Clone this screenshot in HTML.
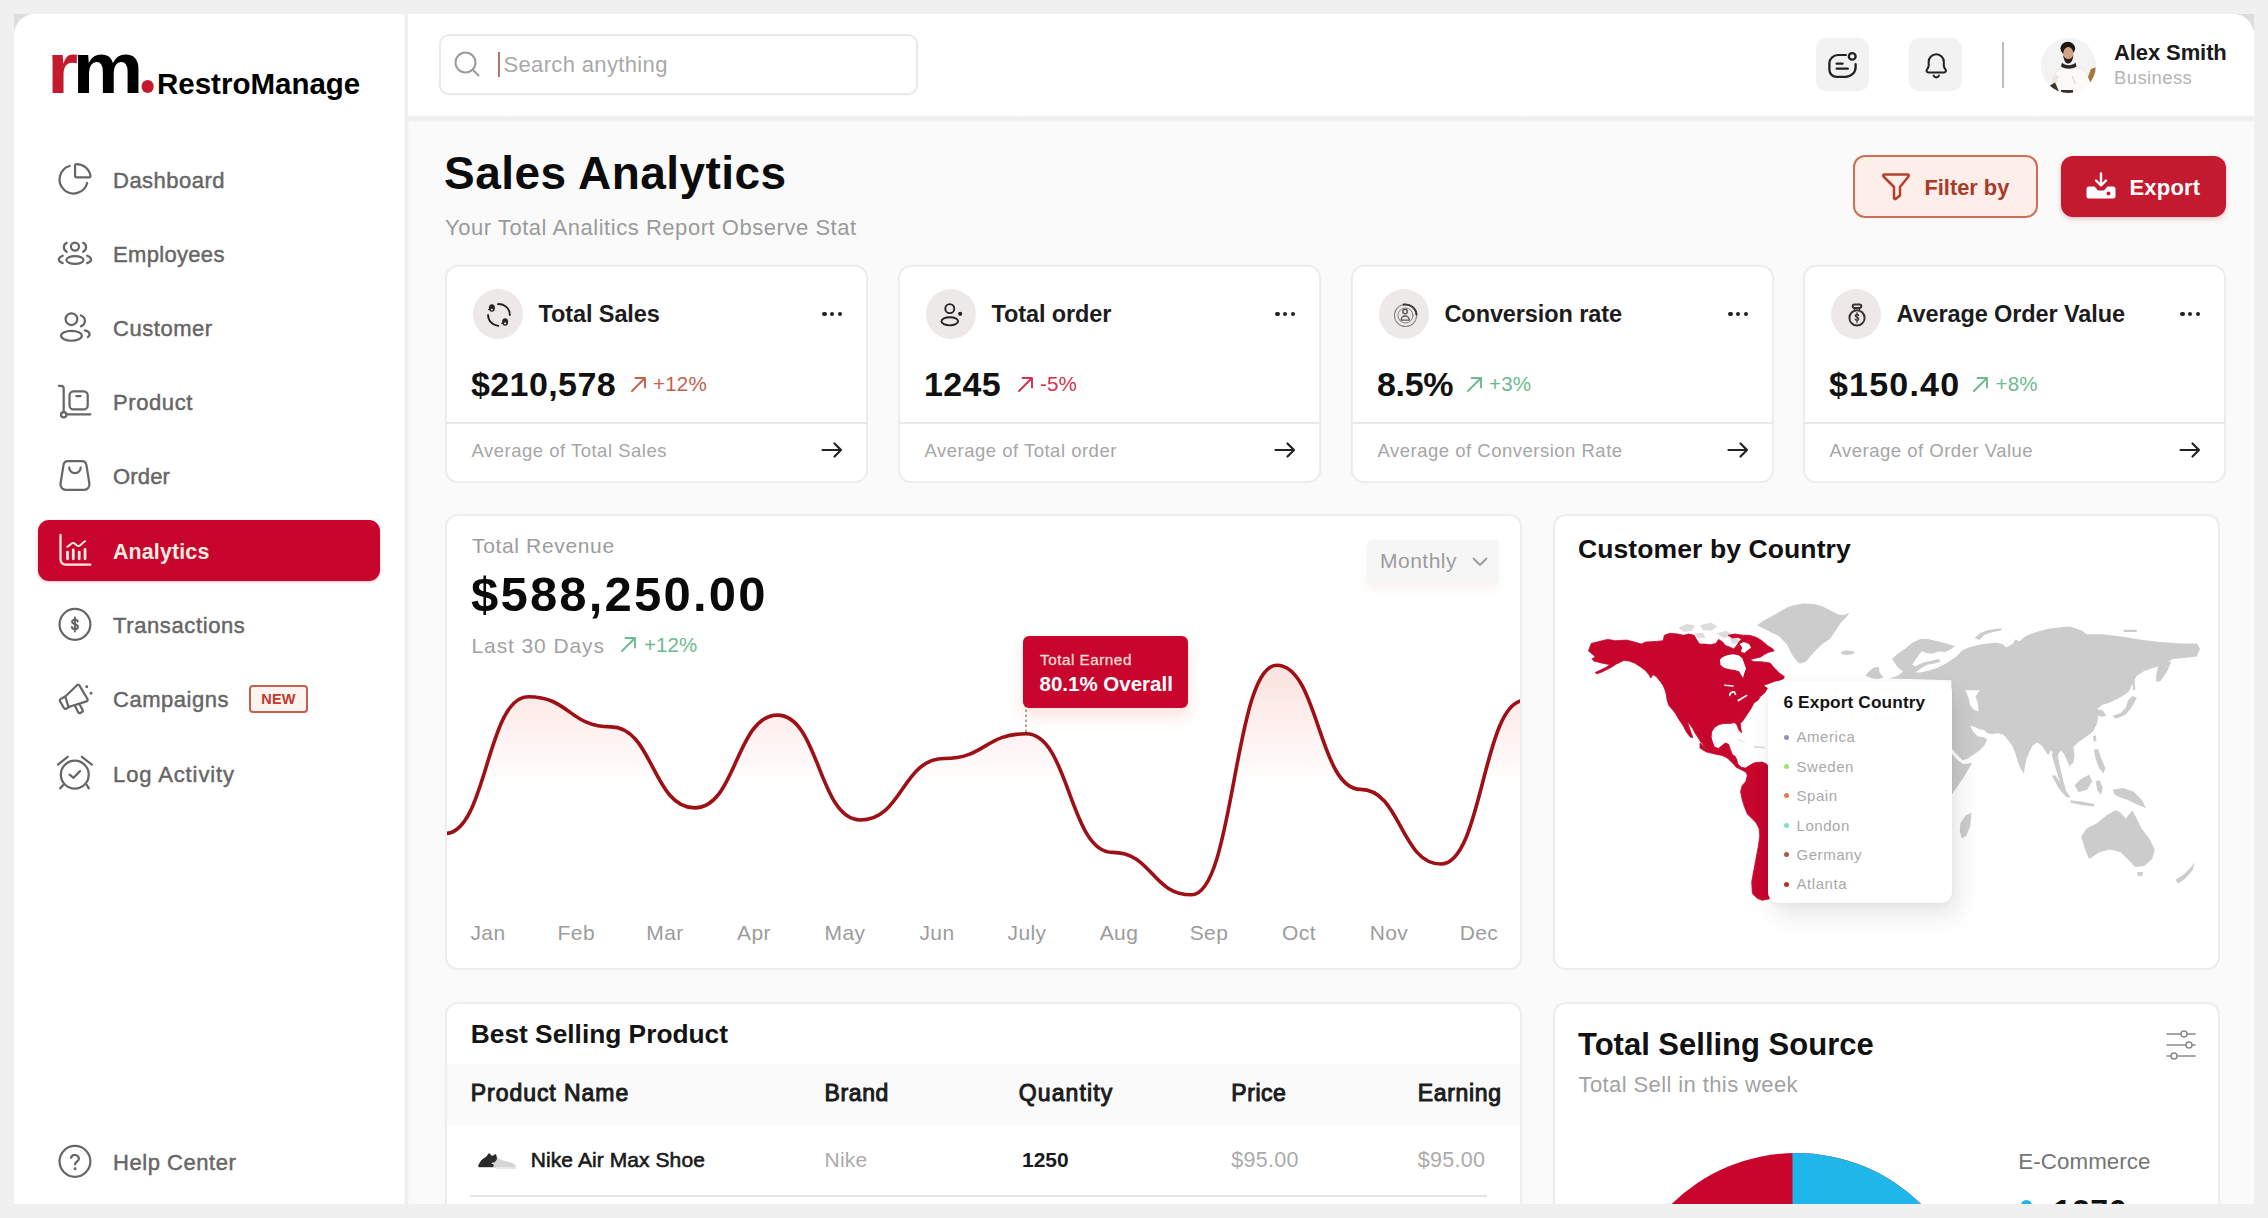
<!DOCTYPE html>
<html lang="en">
<head>
<meta charset="utf-8">
<title>RestroManage - Sales Analytics</title>
<style>
*{box-sizing:border-box;margin:0;padding:0}
html,body{width:2268px;height:1218px;overflow:hidden;background:#f0f0f0;font-family:"Liberation Sans",sans-serif;color:#111}
.abs{position:absolute}
.t{position:absolute;white-space:nowrap;line-height:1}
#app{position:absolute;left:14px;top:14px;width:2240px;height:1190px;background:#fafafa;border-radius:21px 21px 0 0;overflow:hidden}
#pg{position:absolute;left:-14px;top:-14px;width:2268px;height:1218px}
#side{position:absolute;left:14px;top:14px;width:391px;height:1190px;background:#fff}
#sideb{position:absolute;left:404px;top:14px;width:4.500px;height:1190px;background:linear-gradient(to right,#f9f9f9,#ececec 45%,#ececec 55%,#f9f9f9)}
#head{position:absolute;left:408px;top:14px;width:1846px;height:103px;background:#fff}
#headb{position:absolute;left:408px;top:114.500px;width:1846px;height:7px;background:linear-gradient(#fdfdfd,#ececec 45%,#eeeeee 55%,#f8f8f8)}
.nav{position:absolute;left:113px;font-size:22px;letter-spacing:.45px;color:#666;white-space:nowrap;line-height:30px;height:30px;-webkit-text-stroke:.45px #666}
.ico{position:absolute;fill:none;stroke:#666;stroke-width:2.1;stroke-linecap:round;stroke-linejoin:round}
.card{position:absolute;background:#fff;border:2px solid #ededed;border-radius:13px;box-shadow:0 0 2px rgba(0,0,0,.03)}
.sb{font-weight:700}
.g{color:#a6a6a6}
svg{overflow:visible}
</style>
</head>
<body>
<div style="position:absolute;left:14px;top:14px;width:16px;height:16px;background:#dcdcdc"></div><div style="position:absolute;left:2238px;top:14px;width:16px;height:16px;background:#dcdcdc"></div>
<div id="app"><div id="pg">
<div id="side"></div><div id="sideb"></div><div id="head"></div><div id="headb"></div>
<div class="t" style="left:47.300px;top:32.250px;font-size:72.500px;font-weight:700;letter-spacing:-5px;line-height:72.500px;color:#000;transform:scaleX(1.1);transform-origin:0 0"><span style="color:#c41a2e">r</span>m<span style="display:inline-block;width:11.600px;height:13px;border-radius:50%;background:#c41a2e;color:transparent;font-size:8px;letter-spacing:0;line-height:13px;overflow:hidden;margin-left:3.200px;vertical-align:baseline;position:relative;top:0px">.</span></div>
<div class="t " style="left:157px;top:68.8px;font-size:29.5px;line-height:29.5px;color:#000;font-weight:700;">RestroManage</div>
<svg class="ico" viewBox="0 0 32 32" style="left:57px;top:163px;width:34px;height:34px"><path d="M11.900 2.800A13.200 13.200 0 1 0 28.400 18.800"/><path d="M17 2.200a1.200 1.200 0 0 1 1.300-1.200A13.200 13.200 0 0 1 31.500 12.200a1.200 1.200 0 0 1-1.200 1.300H18.200a1.200 1.200 0 0 1-1.200-1.200z"/></svg>
<div class="nav" style="top:166px;letter-spacing:0.49px">Dashboard</div>
<svg class="ico" viewBox="0 0 32 32" style="left:57px;top:237px;width:34px;height:34px"><circle cx="16.900" cy="9" r="3.800"/><ellipse cx="16.900" cy="21.600" rx="8.100" ry="3.700"/><path d="M9.200 5.500C5.500 7.500 5.500 12 9.200 14"/><path d="M24.600 5.500C28.300 7.500 28.300 12 24.600 14"/><path d="M5.400 17.600C.5 19.500.5 23 5.400 24.600"/><path d="M28.400 17.600C33.300 19.500 33.300 23 28.400 24.600"/></svg>
<div class="nav" style="top:240px;letter-spacing:0.32px">Employees</div>
<svg class="ico" viewBox="0 0 32 32" style="left:57px;top:311px;width:34px;height:34px"><circle cx="13.600" cy="7.700" r="5.500"/><ellipse cx="13.600" cy="23.300" rx="9.800" ry="4.700"/><path d="M22.500 4.200C27.500 6 27.500 12.500 22.500 14.500"/><path d="M26.200 18.300C30.800 19 32 22.500 29 24.600"/></svg>
<div class="nav" style="top:314px;letter-spacing:0.54px">Customer</div>
<svg class="ico" viewBox="0 0 32 32" style="left:57px;top:385px;width:34px;height:34px"><path d="M1.800.8h2a2.500 2.500 0 0 1 2.500 2.500V25.200"/><circle cx="6.300" cy="28" r="2.500"/><path d="M9 27.600H31.400"/><rect x="11.800" y="5.900" width="17.100" height="17.100" rx="3.800"/><path d="M18.200 10.400h4"/></svg>
<div class="nav" style="top:388px;letter-spacing:0.6px">Product</div>
<svg class="ico" viewBox="0 0 32 32" style="left:57px;top:459px;width:34px;height:34px"><path d="M10.500 2h12.800a4.500 4.500 0 0 1 4.400 3.800l2.800 17.500a5 5 0 0 1-5 5.700H8.300a5 5 0 0 1-5-5.700L6.100 5.800A4.500 4.500 0 0 1 10.500 2z"/><path d="M11.500 8a5.400 5.400 0 0 0 10.800 0"/></svg>
<div class="nav" style="top:462px;letter-spacing:0.16px">Order</div>
<div class="abs" style="left:38px;top:520px;width:342px;height:61px;background:#c7052d;border-radius:11px;box-shadow:0 1px 3px rgba(200,8,43,.25)"></div>
<svg class="ico" viewBox="0 0 32 32" style="left:57px;top:534px;width:34px;height:34px;stroke:#fdebe0"><path d="M3.300.8V24a4.800 4.800 0 0 0 4.800 4.800H31.400"/><path d="M9.900 23.400V17M15.300 23.400V15M20.900 23.400V17M26.400 23.400V14.500" stroke-width="2.600"/><path d="M9.700 11.900C12 11.500 13 8.300 15.400 8.500 17.500 8.700 18 11.500 20.300 11.300 22.800 11 24 7.500 26.400 6.800" stroke-width="1.900"/></svg>
<div class="nav" style="top:537px;letter-spacing:0.15px;color:#fdebe0;font-weight:700;-webkit-text-stroke:0;font-size:21.4px">Analytics</div>
<svg class="ico" viewBox="0 0 32 32" style="left:57px;top:608px;width:34px;height:34px"><circle cx="16.900" cy="15.400" r="14.500"/><path d="M19.500 12.800c-.3-1.300-1.300-1.900-2.600-1.900-1.600 0-2.700.8-2.700 2.100 0 3 5.500 1.600 5.500 4.600 0 1.400-1.200 2.300-2.800 2.300-1.600 0-2.700-.7-2.900-2M16.900 9v13" stroke-width="1.900"/></svg>
<div class="nav" style="top:611px;letter-spacing:0.61px">Transactions</div>
<svg class="ico" viewBox="0 0 32 32" style="left:57px;top:682px;width:34px;height:34px"><path d="M7.800 13.600L18.800 3a1.500 1.500 0 0 1 2.400.4L28.700 16a1.500 1.500 0 0 1-.9 2.200L10.800 23.500z"/><path d="M7.200 13.900l-3.800 2.200a1.500 1.500 0 0 0-.5 2.100l3.600 6.300a1.500 1.500 0 0 0 2 .6l3.200-1.800"/><path d="M17 22.500l3 5.900a1.500 1.500 0 0 0 2 .7l1.500-.8a1.500 1.500 0 0 0 .6-2l-2.600-4.900"/><circle cx="28" cy="4.500" r=".9" fill="#666" stroke-width="1"/><circle cx="32" cy="10.500" r=".9" fill="#666" stroke-width="1"/></svg>
<div class="nav" style="top:685px;letter-spacing:0.52px">Campaigns</div>
<div class="abs" style="left:249px;top:685px;width:59px;height:28px;border:2px solid #c5604e;border-radius:4px;background:#fdf3f0;color:#c0392b;font-size:14.5px;font-weight:700;text-align:center;line-height:24px;letter-spacing:.3px">NEW</div>
<svg class="ico" viewBox="0 0 32 32" style="left:57px;top:757px;width:34px;height:34px"><circle cx="16.750" cy="16.600" r="13.100"/><path d="M11.900 16.600l3.700 3 6-6.300"/><path d="M.9 7.200L10-.2M23.400-.2l9.400 7.400M5.800 26.300l-2.700 3.200M28.100 26.300l1.800 3.200"/></svg>
<div class="nav" style="top:760px;letter-spacing:0.89px">Log Activity</div>
<svg class="ico" viewBox="0 0 32 32" style="left:57px;top:1145px;width:34px;height:34px"><circle cx="16.900" cy="15.400" r="14.500"/><path d="M13.200 12a3.800 3.800 0 0 1 7.400.9c0 2.500-3.600 2.900-3.600 5.400"/><circle cx="17" cy="22.300" r=".9" fill="#666" stroke-width="1"/></svg>
<div class="nav" style="top:1148px;letter-spacing:0.55px">Help Center</div>
<div class="abs" style="left:439px;top:34px;width:479px;height:61px;border:2px solid #e9e9e9;border-radius:10px;background:#fff;box-shadow:0 1px 2px rgba(0,0,0,.03)"></div>
<svg class="abs" style="left:453px;top:50px" width="28" height="28" viewBox="0 0 28 28" fill="none" stroke="#9b9b9b" stroke-width="2" stroke-linecap="round"><circle cx="12.5" cy="12.500" r="10"/><path d="M20 20l5.500 5.500"/></svg>
<div class="abs" style="left:497.5px;top:51.500px;width:2px;height:25px;background:#b7746c"></div>
<div class="t " style="left:503.5px;top:53.5px;font-size:22px;line-height:22px;color:#a9a9a9;font-weight:400;letter-spacing:0.35px;">Search anything</div>
<div class="abs" style="left:1815.5px;top:37.5px;width:53px;height:53px;border-radius:10px;background:#f2f2f2"></div>
<div class="abs" style="left:1909px;top:37.5px;width:53px;height:53px;border-radius:10px;background:#f2f2f2"></div>
<svg class="abs" style="left:1826px;top:50px" width="33" height="31" viewBox="0 0 34 34" preserveAspectRatio="none" fill="none" stroke="#222" stroke-width="2.400" stroke-linecap="round" stroke-linejoin="round"><path d="M20.500 5.500H12.500a9 9 0 0 0-9 9v7.500a7.500 7.500 0 0 0 7.500 7.500H20a10.500 10.500 0 0 0 10.500-10.500V15.500"/><circle cx="27" cy="7" r="3.500"/><path d="M11 15h6M11 20.500h11.500"/></svg>
<svg class="abs" style="left:1921.500px;top:50.500px" width="28.500" height="30.500" viewBox="0 0 32 34" fill="none" stroke="#222" stroke-width="2.300" stroke-linecap="round" stroke-linejoin="round"><path d="M16 3.500a8.500 8.500 0 0 0-8.500 8.500v4.500c0 1.500-.8 2.800-1.800 4-1.300 1.500-.4 3.500 1.600 3.500h17.400c2 0 2.900-2 1.600-3.500-1-1.200-1.800-2.500-1.800-4V12A8.500 8.500 0 0 0 16 3.500z"/><path d="M13 27.500c.6 1.300 1.700 2 3 2s2.400-.7 3-2"/></svg>
<div class="abs" style="left:2001.5px;top:42px;width:2.500px;height:46px;background:#bdbdbd"></div>
<svg class="abs" style="left:2041px;top:38px" width="55" height="55" viewBox="0 0 55 55"><defs><clipPath id="avc"><circle cx="27.500" cy="27.500" r="27.500"/></clipPath></defs><circle cx="27.500" cy="27.500" r="27.500" fill="#f3f3f3"/><g clip-path="url(#avc)"><path d="M11 56C10 44 12 34 20 30.500L27 27.500l6 .5c8 2 13 6 15 12l2-8 5-2v14l-6 6-2 6z" fill="#fbfaf8" stroke="#e9e5df" stroke-width=".8"/><path d="M14 36c-3 4-4 10-4 16l5 2c0-7 1-12 3-16z" fill="#ece7e0"/><path d="M47 39l3-8 4.500-1.800.5 9-5 8z" fill="#a9763f"/><path d="M9 47.500l5-3 4 9-6 3z" fill="#3f3229"/><path d="M20 52h12v4H20z" fill="#3a302a"/><ellipse cx="26.800" cy="10.500" rx="7.300" ry="6.800" fill="#1d1714"/><ellipse cx="27.300" cy="16" rx="5.100" ry="7" fill="#cfa585"/><path d="M22.300 17c.2 6 2.700 8.500 5 8.500s4.700-2.500 5-8.500c-1.300 3-2.800 4-5 4s-3.700-1-5-4z" fill="#2a1f1a"/><path d="M20.500 12.500c.5-5 3-7.500 6.500-7.500s6.500 2.500 7 7c-2-2.500-4-3.500-7-3.500s-4.500 1-6.500 4z" fill="#1d1714"/><path d="M21 24.500c3 3.500 10.500 3.500 13.500 0l1 4c-4.500 3-11 3-15.500 0z" fill="#2e2622"/><path d="M31 38l3.500 8" stroke="#d5cfc6" stroke-width="1"/></g></svg>
<div class="t " style="left:2114px;top:41.5px;font-size:22px;line-height:22px;color:#1a1a1a;font-weight:700;letter-spacing:-0.1px;">Alex Smith</div>
<div class="t " style="left:2114px;top:68.8px;font-size:18.5px;line-height:18.5px;color:#b4b4b4;font-weight:400;letter-spacing:0.4px;">Business</div>
<div class="t " style="left:444px;top:150.0px;font-size:46px;line-height:46px;color:#0c0c0c;font-weight:700;letter-spacing:0.45px;">Sales Analytics</div>
<div class="t " style="left:445px;top:216.5px;font-size:22px;line-height:22px;color:#9a9a9a;font-weight:400;letter-spacing:0.54px;">Your Total Analitics Report Observe Stat</div>
<div class="abs" style="left:1853px;top:155px;width:184.500px;height:62.500px;border:2px solid #cf6e58;border-radius:12px;background:#fdeee9"></div>
<svg class="abs" style="left:1881px;top:172px" width="30" height="30" viewBox="0 0 30 30" fill="none" stroke="#b4402c" stroke-width="2.500" stroke-linecap="round" stroke-linejoin="round"><path d="M3.500 2.500h23a1.200 1.200 0 0 1 1 2l-8.500 10.500v8.500l-4.500 3.500a1 1 0 0 1-1.500-.8V15L2.500 4.500a1.200 1.200 0 0 1 1-2z"/></svg>
<div class="t " style="left:1924.5px;top:176.6px;font-size:21.8px;line-height:21.8px;color:#a93a27;font-weight:700;">Filter by</div>
<div class="abs" style="left:2061px;top:155.5px;width:165px;height:61.500px;border-radius:12px;background:#c41a30;box-shadow:0 2px 5px rgba(196,26,48,.25)"></div>
<svg class="abs" style="left:2086px;top:172px" width="30" height="28" viewBox="0 0 30 28"><path d="M15 1.500v11M10 8.500l5 5 5-5" fill="none" stroke="#fff" stroke-width="2.400" stroke-linecap="round" stroke-linejoin="round"/><path d="M3 14.500h5.500l3.500 4h6l3.500-4H27a2.500 2.500 0 0 1 2.500 2.500v7a2.500 2.500 0 0 1-2.500 2.500H3A2.500 2.500 0 0 1 .5 24v-7A2.500 2.500 0 0 1 3 14.500z" fill="#fff"/><circle cx="22.500" cy="21.500" r="2" fill="#c41a30"/></svg>
<div class="t " style="left:2129.5px;top:176.5px;font-size:22px;line-height:22px;color:#fff;font-weight:700;letter-spacing:0.2px;">Export</div>
<div class="card" style="left:445px;top:264.5px;width:422.500px;height:218px"></div>
<div class="abs" style="left:446px;top:421.5px;width:420.500px;height:2px;background:#e8e8e8"></div>
<div class="abs" style="left:472.5px;top:288.500px;width:50px;height:50px;border-radius:50%;background:#ede9e9"></div>
<svg class="abs" style="left:482.5px;top:298.500px" width="30" height="30" viewBox="0 0 32 32" fill="none" stroke="#222" stroke-width="1.800" stroke-linecap="round" stroke-linejoin="round"><path d="M16 5.400A11.600 11.600 0 0 1 28.600 17" stroke-width="2"/><path d="M5.400 17A11.600 11.600 0 0 0 16.500 28.600" stroke-width="2"/><ellipse cx="9.500" cy="9.700" rx="3.200" ry="4" fill="#2b2424" stroke="none"/><ellipse cx="23.600" cy="24.400" rx="3.200" ry="4" fill="#2b2424" stroke="none"/><ellipse cx="9.500" cy="11.200" rx="1.300" ry=".9" fill="#e9e4e4" stroke="none"/><ellipse cx="23.600" cy="25.900" rx="1.300" ry=".9" fill="#e9e4e4" stroke="none"/><path d="M5.800 11.200h1.500M19.900 25.900h1.500" stroke-width="1.200"/></svg>
<div class="t " style="left:538.5px;top:303.2px;font-size:23.5px;line-height:23.5px;color:#1c1c1c;font-weight:700;letter-spacing:-0.1px;">Total Sales</div>
<div class="abs" style="left:822.0px;top:311.500px;width:4.500px;height:4.500px;border-radius:50%;background:#222"></div>
<div class="abs" style="left:829.8px;top:311.500px;width:4.500px;height:4.500px;border-radius:50%;background:#222"></div>
<div class="abs" style="left:837.6px;top:311.500px;width:4.500px;height:4.500px;border-radius:50%;background:#222"></div>
<div class="t " style="left:471px;top:366.5px;font-size:34px;line-height:34px;color:#111;font-weight:700;letter-spacing:0.4px;">$210,578</div>
<svg class="abs" style="left:629.5px;top:375.5px" width="17" height="17" viewBox="0 0 17 17" fill="none" stroke="#c5604e" stroke-width="1.900" stroke-linecap="round" stroke-linejoin="round"><path d="M2 15L15 2M5.500 2H15v9.500"/></svg>
<div class="t " style="left:653.0px;top:373.7px;font-size:20.6px;line-height:20.6px;color:#c5604e;font-weight:400;letter-spacing:0.15px;">+12%</div>
<div class="t " style="left:471.5px;top:442.2px;font-size:18.5px;line-height:18.5px;color:#a6a6a6;font-weight:400;letter-spacing:0.5px;">Average of Total Sales</div>
<svg class="abs" style="left:821px;top:440px" width="22" height="20" viewBox="0 0 22 20" fill="none" stroke="#222" stroke-width="2.200" stroke-linecap="round" stroke-linejoin="round"><path d="M1.500 10h18.500M13.500 3.500L20 10l-6.500 6.500"/></svg>
<div class="card" style="left:898px;top:264.5px;width:422.500px;height:218px"></div>
<div class="abs" style="left:899px;top:421.5px;width:420.500px;height:2px;background:#e8e8e8"></div>
<div class="abs" style="left:925.5px;top:288.500px;width:50px;height:50px;border-radius:50%;background:#ede9e9"></div>
<svg class="abs" style="left:935.5px;top:298.500px" width="30" height="30" viewBox="0 0 32 32" fill="none" stroke="#222" stroke-width="1.800" stroke-linecap="round" stroke-linejoin="round"><circle cx="14.700" cy="10.300" r="4.800" stroke-width="2"/><ellipse cx="14.700" cy="23.800" rx="8.900" ry="4.300" stroke-width="2"/><circle cx="25.800" cy="15.800" r="2.200" fill="#222" stroke="none"/></svg>
<div class="t " style="left:991.5px;top:303.2px;font-size:23.5px;line-height:23.5px;color:#1c1c1c;font-weight:700;letter-spacing:-0.1px;">Total order</div>
<div class="abs" style="left:1275.0px;top:311.500px;width:4.500px;height:4.500px;border-radius:50%;background:#222"></div>
<div class="abs" style="left:1282.8px;top:311.500px;width:4.500px;height:4.500px;border-radius:50%;background:#222"></div>
<div class="abs" style="left:1290.6px;top:311.500px;width:4.500px;height:4.500px;border-radius:50%;background:#222"></div>
<div class="t " style="left:924px;top:366.5px;font-size:34px;line-height:34px;color:#111;font-weight:700;letter-spacing:0.3px;">1245</div>
<svg class="abs" style="left:1016.5px;top:375.5px" width="17" height="17" viewBox="0 0 17 17" fill="none" stroke="#d6304a" stroke-width="1.900" stroke-linecap="round" stroke-linejoin="round"><path d="M2 15L15 2M5.500 2H15v9.500"/></svg>
<div class="t " style="left:1040.0px;top:373.7px;font-size:20.6px;line-height:20.6px;color:#d6304a;font-weight:400;letter-spacing:0.15px;">-5%</div>
<div class="t " style="left:924.5px;top:442.2px;font-size:18.5px;line-height:18.5px;color:#a6a6a6;font-weight:400;letter-spacing:0.5px;">Average of Total order</div>
<svg class="abs" style="left:1274px;top:440px" width="22" height="20" viewBox="0 0 22 20" fill="none" stroke="#222" stroke-width="2.200" stroke-linecap="round" stroke-linejoin="round"><path d="M1.500 10h18.500M13.500 3.500L20 10l-6.500 6.500"/></svg>
<div class="card" style="left:1351px;top:264.5px;width:422.500px;height:218px"></div>
<div class="abs" style="left:1352px;top:421.5px;width:420.500px;height:2px;background:#e8e8e8"></div>
<div class="abs" style="left:1378.5px;top:288.500px;width:50px;height:50px;border-radius:50%;background:#ede9e9"></div>
<svg class="abs" style="left:1388.5px;top:298.500px" width="30" height="30" viewBox="0 0 32 32" fill="none" stroke="#222" stroke-width="1.800" stroke-linecap="round" stroke-linejoin="round"><circle cx="17.600" cy="17.600" r="11.800" stroke-width="1.100" stroke="#8a8585"/><path d="M15.550 5.980A11.800 11.800 0 0 1 29.360 16.570" stroke-width="2.200" stroke="#3a3535"/><circle cx="17.600" cy="17.600" r="8" stroke-width="1" stroke="#777"/><circle cx="17.100" cy="13.400" r="2.400" stroke-width="1.500" stroke="#555"/><path d="M13 22.500a4.300 4.300 0 0 1 8.600 0z" stroke-width="1.500" stroke="#555"/></svg>
<div class="t " style="left:1444.5px;top:303.2px;font-size:23.5px;line-height:23.5px;color:#1c1c1c;font-weight:700;letter-spacing:-0.1px;">Conversion rate</div>
<div class="abs" style="left:1728.0px;top:311.500px;width:4.500px;height:4.500px;border-radius:50%;background:#222"></div>
<div class="abs" style="left:1735.8px;top:311.500px;width:4.500px;height:4.500px;border-radius:50%;background:#222"></div>
<div class="abs" style="left:1743.6px;top:311.500px;width:4.500px;height:4.500px;border-radius:50%;background:#222"></div>
<div class="t " style="left:1377px;top:366.5px;font-size:34px;line-height:34px;color:#111;font-weight:700;letter-spacing:-0.3px;">8.5%</div>
<svg class="abs" style="left:1465.5px;top:375.5px" width="17" height="17" viewBox="0 0 17 17" fill="none" stroke="#6dba8c" stroke-width="1.900" stroke-linecap="round" stroke-linejoin="round"><path d="M2 15L15 2M5.500 2H15v9.500"/></svg>
<div class="t " style="left:1489.0px;top:373.7px;font-size:20.6px;line-height:20.6px;color:#6dba8c;font-weight:400;letter-spacing:0.15px;">+3%</div>
<div class="t " style="left:1377.5px;top:442.2px;font-size:18.5px;line-height:18.5px;color:#a6a6a6;font-weight:400;letter-spacing:0.5px;">Average of Conversion Rate</div>
<svg class="abs" style="left:1727px;top:440px" width="22" height="20" viewBox="0 0 22 20" fill="none" stroke="#222" stroke-width="2.200" stroke-linecap="round" stroke-linejoin="round"><path d="M1.500 10h18.500M13.500 3.500L20 10l-6.500 6.500"/></svg>
<div class="card" style="left:1803px;top:264.5px;width:422.500px;height:218px"></div>
<div class="abs" style="left:1804px;top:421.5px;width:420.500px;height:2px;background:#e8e8e8"></div>
<div class="abs" style="left:1830.5px;top:288.500px;width:50px;height:50px;border-radius:50%;background:#ede9e9"></div>
<svg class="abs" style="left:1840.5px;top:298.500px" width="30" height="30" viewBox="0 0 32 32" fill="none" stroke="#222" stroke-width="1.800" stroke-linecap="round" stroke-linejoin="round"><circle cx="17.070" cy="20.200" r="8.100" stroke-width="2.100" stroke="#3a3333"/><rect x="12.500" y="5.800" width="9.200" height="3.800" rx="1.900" stroke-width="2.100" stroke="#3a3333"/><path d="M14 9.600l1 2.800M20.200 9.600l-1 2.800" stroke-width="1.500" stroke="#3a3333"/><path d="M18.900 17.800c-.2-1-.9-1.400-1.800-1.400-1.100 0-1.900.6-1.900 1.500 0 2.100 3.900 1.100 3.900 3.300 0 1-.8 1.600-2 1.600-1 0-1.800-.5-2-1.400M17.070 14.500v10.800" stroke-width="1.300" stroke="#3a3333"/></svg>
<div class="t " style="left:1896.5px;top:303.2px;font-size:23.5px;line-height:23.5px;color:#1c1c1c;font-weight:700;letter-spacing:-0.1px;">Average Order Value</div>
<div class="abs" style="left:2180.0px;top:311.500px;width:4.500px;height:4.500px;border-radius:50%;background:#222"></div>
<div class="abs" style="left:2187.8px;top:311.500px;width:4.500px;height:4.500px;border-radius:50%;background:#222"></div>
<div class="abs" style="left:2195.6px;top:311.500px;width:4.500px;height:4.500px;border-radius:50%;background:#222"></div>
<div class="t " style="left:1829px;top:366.5px;font-size:34px;line-height:34px;color:#111;font-weight:700;letter-spacing:1.2px;">$150.40</div>
<svg class="abs" style="left:1972px;top:375.5px" width="17" height="17" viewBox="0 0 17 17" fill="none" stroke="#6dba8c" stroke-width="1.900" stroke-linecap="round" stroke-linejoin="round"><path d="M2 15L15 2M5.500 2H15v9.500"/></svg>
<div class="t " style="left:1995.5px;top:373.7px;font-size:20.6px;line-height:20.6px;color:#6dba8c;font-weight:400;letter-spacing:0.15px;">+8%</div>
<div class="t " style="left:1829.5px;top:442.2px;font-size:18.5px;line-height:18.5px;color:#a6a6a6;font-weight:400;letter-spacing:0.5px;">Average of Order Value</div>
<svg class="abs" style="left:2179px;top:440px" width="22" height="20" viewBox="0 0 22 20" fill="none" stroke="#222" stroke-width="2.200" stroke-linecap="round" stroke-linejoin="round"><path d="M1.500 10h18.500M13.500 3.500L20 10l-6.500 6.500"/></svg>
<div class="card" style="left:444.5px;top:513.5px;width:1077.500px;height:456px;overflow:hidden" id="revcard"></div>
<div class="t " style="left:472px;top:535.0px;font-size:21px;line-height:21px;color:#9c9c9c;font-weight:400;letter-spacing:0.65px;">Total Revenue</div>
<div class="t " style="left:471px;top:569.5px;font-size:49px;line-height:49px;color:#0a0a0a;font-weight:700;letter-spacing:2.2px;">$588,250.00</div>
<div class="t " style="left:471.5px;top:635.0px;font-size:21px;line-height:21px;color:#a2a2a2;font-weight:400;letter-spacing:0.9px;">Last 30 Days</div>
<svg class="abs" style="left:620px;top:636px" width="17" height="17" viewBox="0 0 17 17" fill="none" stroke="#6dba8c" stroke-width="1.900" stroke-linecap="round" stroke-linejoin="round"><path d="M2 15L15 2M5.500 2H15v9.500"/></svg>
<div class="t " style="left:644px;top:635.2px;font-size:20.5px;line-height:20.5px;color:#6dba8c;font-weight:400;letter-spacing:0.1px;">+12%</div>
<div class="abs" style="left:1366.5px;top:539.500px;width:132.500px;height:44px;border-radius:6px;background:#f7f6f6;box-shadow:0 5px 8px rgba(250,228,224,.45)"></div>
<div class="t " style="left:1380px;top:550.0px;font-size:21px;line-height:21px;color:#9c9c9c;font-weight:400;letter-spacing:0.5px;">Monthly</div>
<svg class="abs" style="left:1472px;top:557px" width="16" height="10" viewBox="0 0 16 10" fill="none" stroke="#9c9c9c" stroke-width="1.800" stroke-linecap="round" stroke-linejoin="round"><path d="M1.500 1.500L8 8l6.500-6.500"/></svg>
<svg class="abs" style="left:446.5px;top:515.500px;overflow:hidden" width="1073.500" height="452" viewBox="446.500 515.500 1073.500 452">
<defs><linearGradient id="rg" x1="0" y1="655" x2="0" y2="785" gradientUnits="userSpaceOnUse"><stop offset="0" stop-color="#e8553f" stop-opacity=".19"/><stop offset="1" stop-color="#e8553f" stop-opacity="0"/></linearGradient></defs>
<path d="M444.7 833.0C486.2 833.0 486.2 696.3 527.7 696.3C569.0 696.3 569.0 726.4 610.4 726.4C652.3 726.4 652.3 807.4 694.3 807.4C735.6 807.4 735.6 714.6 777.0 714.6C818.4 714.6 818.4 819.5 859.8 819.5C901.8 819.5 901.8 758.0 943.7 758.0C984.6 758.0 984.6 733.3 1025.6 733.3C1068.8 733.3 1068.8 851.9 1112.0 851.9C1151.5 851.9 1151.5 894.3 1191.0 894.3C1233.6 894.3 1233.6 664.7 1276.2 664.7C1318.1 664.7 1318.1 788.9 1360.0 788.9C1400.2 788.9 1400.2 863.5 1440.4 863.5C1482.2 863.5 1482.2 700.0 1524.0 700.0L1524 960L444 960Z" fill="url(#rg)"/>
<path d="M444.7 833.0C486.2 833.0 486.2 696.3 527.7 696.3C569.0 696.3 569.0 726.4 610.4 726.4C652.3 726.4 652.3 807.4 694.3 807.4C735.6 807.4 735.6 714.6 777.0 714.6C818.4 714.6 818.4 819.5 859.8 819.5C901.8 819.5 901.8 758.0 943.7 758.0C984.6 758.0 984.6 733.3 1025.6 733.3C1068.8 733.3 1068.8 851.9 1112.0 851.9C1151.5 851.9 1151.5 894.3 1191.0 894.3C1233.6 894.3 1233.6 664.7 1276.2 664.7C1318.1 664.7 1318.1 788.9 1360.0 788.9C1400.2 788.9 1400.2 863.5 1440.4 863.5C1482.2 863.5 1482.2 700.0 1524.0 700.0" fill="none" stroke="#9c1016" stroke-width="3.600" stroke-linecap="round" stroke-linejoin="round"/>
<path d="M1025.500 709V734" stroke="#8a8a8a" stroke-width="1.500" stroke-dasharray="2.500 2.500"/>
</svg>
<div class="abs" style="left:1022.5px;top:636px;width:165.500px;height:72px;border-radius:6px;background:#c7052d;box-shadow:0 8px 14px rgba(230,120,100,.22)"></div>
<div class="t " style="left:1040px;top:651.9px;font-size:15.3px;line-height:15.3px;color:#fbdcd3;font-weight:400;letter-spacing:0.5px;-webkit-text-stroke:0.3px #fbdcd3;">Total Earned</div>
<div class="t " style="left:1039.5px;top:674.2px;font-size:20.5px;line-height:20.5px;color:#fff;font-weight:700;">80.1% Overall</div>
<div class="t" style="left:448px;width:80px;text-align:center;top:921.7px;font-size:21px;line-height:21px;color:#9c9c9c;letter-spacing:.4px">Jan</div>
<div class="t" style="left:536.3px;width:80px;text-align:center;top:921.7px;font-size:21px;line-height:21px;color:#9c9c9c;letter-spacing:.4px">Feb</div>
<div class="t" style="left:625px;width:80px;text-align:center;top:921.7px;font-size:21px;line-height:21px;color:#9c9c9c;letter-spacing:.4px">Mar</div>
<div class="t" style="left:714px;width:80px;text-align:center;top:921.7px;font-size:21px;line-height:21px;color:#9c9c9c;letter-spacing:.4px">Apr</div>
<div class="t" style="left:805px;width:80px;text-align:center;top:921.7px;font-size:21px;line-height:21px;color:#9c9c9c;letter-spacing:.4px">May</div>
<div class="t" style="left:897px;width:80px;text-align:center;top:921.7px;font-size:21px;line-height:21px;color:#9c9c9c;letter-spacing:.4px">Jun</div>
<div class="t" style="left:987px;width:80px;text-align:center;top:921.7px;font-size:21px;line-height:21px;color:#9c9c9c;letter-spacing:.4px">July</div>
<div class="t" style="left:1079px;width:80px;text-align:center;top:921.7px;font-size:21px;line-height:21px;color:#9c9c9c;letter-spacing:.4px">Aug</div>
<div class="t" style="left:1169px;width:80px;text-align:center;top:921.7px;font-size:21px;line-height:21px;color:#9c9c9c;letter-spacing:.4px">Sep</div>
<div class="t" style="left:1259px;width:80px;text-align:center;top:921.7px;font-size:21px;line-height:21px;color:#9c9c9c;letter-spacing:.4px">Oct</div>
<div class="t" style="left:1349px;width:80px;text-align:center;top:921.7px;font-size:21px;line-height:21px;color:#9c9c9c;letter-spacing:.4px">Nov</div>
<div class="t" style="left:1439px;width:80px;text-align:center;top:921.7px;font-size:21px;line-height:21px;color:#9c9c9c;letter-spacing:.4px">Dec</div>
<div class="card" style="left:1553px;top:513.500px;width:666.500px;height:456px"></div>
<div class="t " style="left:1578px;top:536.2px;font-size:26.5px;line-height:26.5px;color:#111;font-weight:700;letter-spacing:0.1px;">Customer by Country</div>
<svg class="abs" style="left:0;top:0" width="2268" height="1218" viewBox="0 0 2268 1218"><polygon points="1678.4,627.9 1686.5,623.9 1694.7,625.2 1692.0,630.7 1683.8,632.0" fill="#dcdcdc"/><polygon points="1700.1,625.2 1710.9,622.5 1717.7,626.6 1710.9,630.7 1702.8,630.1" fill="#dcdcdc"/><polygon points="1716.3,633.4 1725.8,630.7 1732.6,634.7 1724.5,638.2" fill="#dcdcdc"/><polygon points="1694.7,633.4 1702.8,632.8 1705.5,637.4 1697.4,638.2" fill="#dcdcdc"/><polygon points="1729.9,638.8 1736.7,637.4 1739.4,642.8 1732.6,644.2" fill="#dcdcdc"/><polygon points="1757.0,625.2 1763.8,620.4 1770.5,617.1 1778.7,612.2 1786.8,607.6 1794.9,604.9 1803.1,603.6 1813.9,604.1 1822.0,606.3 1830.2,610.3 1838.3,614.4 1844.3,614.9 1849.7,612.5 1845.1,618.5 1841.0,622.5 1835.6,630.7 1830.2,638.8 1822.0,644.2 1813.9,652.3 1805.8,661.8 1799.8,663.7 1796.3,660.5 1792.2,655.0 1786.8,644.2 1778.7,636.1 1767.8,630.7" fill="#cccccc"/><polygon points="1841.0,651.8 1846.4,650.2 1852.4,651.2 1852.9,654.0 1847.0,655.0 1841.5,654.0" fill="#cccccc"/><polygon points="1588.5,650.9 1591.3,643.4 1599.4,641.4 1607.5,639.4 1615.6,640.7 1626.5,640.1 1634.6,642.1 1641.4,644.1 1645.4,642.1 1656.3,641.4 1663.1,640.7 1664.4,635.3 1669.8,633.3 1678.0,634.0 1683.4,635.3 1688.8,634.0 1694.2,635.3 1696.9,640.1 1699.6,644.1 1705.0,644.1 1710.5,644.8 1715.9,643.4 1718.6,639.4 1722.7,642.1 1725.4,645.5 1730.8,647.5 1733.5,648.9 1736.2,646.2 1738.9,642.1 1741.6,638.7 1737.6,637.4 1732.1,638.0 1728.1,635.3 1734.8,634.0 1743.0,635.3 1749.7,635.3 1756.5,637.4 1761.9,640.7 1767.4,645.5 1772.8,648.9 1774.1,650.9 1768.7,652.3 1764.7,654.3 1760.6,657.0 1755.2,658.3 1749.7,659.7 1753.8,661.7 1760.6,661.7 1766.0,662.4 1770.1,663.1 1774.1,667.8 1779.6,673.2 1784.3,676.6 1783.6,678.7 1778.2,680.7 1772.8,682.1 1767.4,684.1 1763.3,685.4 1767.4,688.2 1764.7,692.9 1760.6,696.3 1757.9,700.3 1753.8,703.1 1751.1,708.5 1748.4,712.5 1745.7,716.6 1743.0,720.7 1740.3,723.4 1740.9,728.8 1741.6,732.9 1738.9,730.1 1736.9,724.7 1734.8,722.7 1729.4,723.4 1724.0,723.4 1718.6,724.7 1714.5,727.4 1711.8,731.5 1711.1,736.9 1712.5,742.3 1714.5,747.1 1718.6,748.4 1722.7,745.0 1725.4,743.0 1728.8,744.4 1728.1,749.1 1727.4,752.5 1730.8,755.9 1734.8,755.9 1736.9,759.9 1737.6,764.0 1741.6,767.4 1745.7,768.1 1749.7,765.4 1755.2,762.7 1761.9,762.0 1766.7,764.0 1768.0,769.4 1751.1,772.8 1745.7,772.1 1740.9,769.4 1736.9,766.7 1732.1,762.7 1728.1,758.6 1724.0,755.9 1718.6,753.2 1713.2,752.5 1708.4,750.5 1705.0,747.1 1701.0,742.3 1697.6,736.9 1694.9,732.9 1692.9,728.8 1690.1,724.7 1687.4,722.0 1690.1,730.1 1692.9,737.6 1690.1,736.9 1686.1,731.5 1683.4,726.1 1680.7,722.0 1678.0,718.0 1675.9,713.9 1672.5,709.8 1669.1,705.8 1667.1,700.3 1666.4,694.9 1665.1,690.2 1663.1,685.4 1660.3,681.4 1656.3,676.6 1652.9,674.6 1650.9,678.0 1648.8,674.6 1645.4,670.5 1640.0,666.5 1634.6,663.1 1629.2,661.1 1623.8,660.4 1619.7,662.4 1615.6,664.4 1611.6,667.2 1607.5,669.2 1602.1,671.9 1596.7,673.9 1595.3,672.6 1600.7,669.9 1606.2,667.2 1610.2,664.4 1604.8,663.8 1599.4,662.4 1594.0,661.1 1591.9,659.0 1595.3,657.0 1592.6,654.3" fill="#c7052d" stroke="#c7052d" stroke-width=".8" stroke-linejoin="round"/><polygon points="1700.0,743.0 1708.9,751.1 1717.7,750.3 1723.6,744.4 1728.8,745.2 1731.8,753.3 1736.2,759.2 1736.9,765.1 1741.4,768.1 1745.8,768.8 1749.5,765.8 1754.7,762.9 1760.6,764.4 1769.4,765.8 1769.4,898.8 1762.0,900.3 1756.9,898.1 1752.4,893.6 1751.7,881.8 1753.9,870.0 1756.1,858.2 1758.3,846.4 1759.8,836.0 1759.1,828.6 1756.1,822.7 1751.7,818.3 1747.3,813.9 1744.3,806.5 1742.1,799.1 1740.6,791.7 1742.1,785.8 1745.8,781.4 1747.3,775.5 1745.8,771.0 1741.4,769.5 1736.2,767.3 1732.5,762.2 1728.1,757.7 1722.2,755.5 1714.8,754.0 1705.9,751.8 1700.0,748.1" fill="#c7052d" stroke="#c7052d" stroke-width=".8" stroke-linejoin="round"/><polygon points="1719.9,659.7 1722.7,657.0 1728.1,655.0 1733.5,654.3 1738.9,655.6 1742.3,658.3 1744.3,663.8 1746.0,668.5 1744.3,673.2 1743.0,678.0 1740.9,674.6 1738.9,671.2 1734.8,669.9 1729.4,669.2 1724.0,667.8 1720.6,665.1" fill="#fff"/><polygon points="1739.6,644.1 1743.7,642.1 1749.1,644.1 1751.1,647.5 1747.7,650.2 1744.3,652.9 1740.9,651.6 1742.3,647.5" fill="#fff"/><polygon points="1724.0,684.4 1733.5,685.2 1733.8,686.8 1724.3,686.0" fill="#fff"/><polygon points="1729.2,693.3 1732.1,691.1 1734.8,690.9 1736.5,694.7 1734.8,695.2 1733.8,692.5 1731.1,693.8 1730.2,696.3 1728.9,696.0" fill="#fff"/><polygon points="1737.3,700.1 1746.8,694.4 1747.6,695.7 1738.1,701.7" fill="#fff"/><polygon points="1736.2,738.3 1744.3,741.0 1745.7,743.0 1737.6,740.3" fill="#ebebeb"/><polygon points="1753.8,745.7 1764.7,746.7 1764.7,748.4 1754.5,747.8" fill="#dedede"/><polygon points="1951.4,747.3 1951.4,680.2 1889.0,678.6 1898.4,675.5 1903.0,671.6 1898.4,667.7 1895.2,663.8 1892.1,659.1 1896.8,654.5 1904.6,649.0 1912.4,642.8 1920.2,638.9 1928.0,638.9 1937.4,641.2 1946.7,643.5 1954.5,645.9 1951.4,649.0 1945.2,652.1 1938.9,651.3 1932.7,653.7 1926.4,652.9 1921.8,651.3 1918.6,655.2 1915.5,659.9 1912.4,664.6 1915.5,666.2 1921.8,663.0 1928.0,661.5 1934.2,659.9 1938.9,659.1 1940.5,661.5 1934.2,663.8 1928.0,664.6 1923.3,666.9 1918.6,670.1 1915.5,672.4 1920.2,672.4 1928.0,670.8 1937.4,667.7 1946.7,663.0 1956.1,656.8 1962.3,650.6 1968.6,647.4 1977.9,645.1 1987.3,643.5 1996.6,642.8 2002.9,644.3 2006.0,647.4 2012.2,644.3 2015.4,639.6 2020.0,641.2 2023.2,638.1 2027.8,635.0 2037.2,631.8 2048.1,628.7 2060.6,627.2 2070.0,626.4 2081.2,630.2 2086.5,634.2 2102.2,634.2 2123.3,636.8 2139.0,639.4 2160.0,642.0 2181.1,643.4 2196.8,643.4 2200.0,648.6 2196.8,656.5 2186.3,657.8 2173.2,659.1 2167.9,661.7 2160.0,665.7 2144.3,670.9 2136.4,676.2 2132.4,684.1 2128.5,692.0 2120.6,697.2 2110.1,702.5 2102.2,705.1 2097.0,709.0 2102.8,710.4 2106.2,715.6 2101.7,716.9 2098.3,715.6 2097.0,723.5 2093.0,731.4 2086.5,736.6 2078.6,741.9 2073.3,747.1 2074.6,755.0 2073.3,762.9 2068.1,766.8 2070.0,767.6 2066.8,759.8 2063.7,753.5 2060.6,750.4 2057.5,755.9 2054.4,753.5 2051.2,750.4 2048.1,755.1 2045.0,750.4 2041.9,745.7 2037.2,742.6 2032.5,745.7 2029.4,752.0 2026.3,759.8 2024.7,767.6 2023.9,773.8 2020.8,769.1 2017.7,761.3 2015.4,753.5 2012.2,745.7 2007.6,739.5 2003.7,734.8 1998.2,733.2 1992.0,734.0 1987.3,733.2 1984.2,730.1 1979.5,729.3 1974.8,727.0 1970.1,725.4 1973.2,731.7 1977.9,736.4 1983.4,737.1 1987.3,739.5 1984.2,745.7 1979.5,750.4 1973.2,755.1 1967.0,759.0 1962.3,760.5 1959.2,759.0 1956.1,755.1 1953.0,750.4" fill="#cccccc"/><polygon points="1960.4,823.3 1965.6,815.4 1971.4,812.8 1970.3,826.0 1966.1,836.5 1961.7,838.0 1959.8,831.2" fill="#cccccc"/><polygon points="2123.3,629.7 2136.4,629.7 2136.9,632.1 2123.8,632.1" fill="#cccccc"/><polygon points="2156.1,676.2 2157.9,667.0 2164.0,661.0 2171.1,661.7 2167.4,670.9 2160.6,680.9 2156.4,682.0" fill="#cccccc"/><polygon points="2131.9,676.7 2134.3,676.7 2135.3,689.3 2133.2,690.6" fill="#cccccc"/><polygon points="2112.7,716.1 2120.6,713.0 2125.9,707.7 2128.0,700.4 2132.4,695.9 2136.9,697.7 2131.1,708.3 2125.4,714.8 2115.9,718.8" fill="#cccccc"/><polygon points="2093.0,736.6 2095.7,735.3 2096.5,740.6 2093.8,741.9" fill="#cccccc"/><polygon points="2093.8,749.8 2098.3,749.2 2100.9,757.6 2105.4,768.2 2103.5,773.4 2099.1,768.2 2095.7,759.0" fill="#cccccc"/><polygon points="2074.6,785.2 2081.2,778.7 2089.1,774.7 2092.2,781.3 2087.0,789.7 2078.6,792.3" fill="#cccccc"/><polygon points="2051.8,775.5 2055.5,775.5 2064.1,787.9 2070.7,797.6 2066.0,797.1 2058.9,788.6" fill="#cccccc"/><polygon points="2070.7,800.2 2082.5,801.8 2094.4,803.9 2093.8,806.5 2081.2,804.9 2070.7,802.8" fill="#cccccc"/><polygon points="2095.7,781.3 2099.6,780.2 2102.8,787.9 2100.9,795.0 2097.0,789.2" fill="#cccccc"/><polygon points="2112.7,789.7 2123.3,787.9 2133.8,791.8 2141.6,799.7 2146.1,808.1 2136.4,804.2 2128.5,800.2 2120.6,797.6 2114.8,795.0" fill="#cccccc"/><polygon points="2081.2,836.5 2086.5,828.6 2097.0,823.3 2106.2,815.4 2115.4,810.2 2120.6,812.8 2125.9,818.6 2132.4,810.2 2136.4,818.1 2141.6,828.6 2149.5,839.1 2154.8,849.6 2152.2,858.8 2144.3,865.9 2135.1,866.9 2128.5,860.1 2120.6,852.2 2110.1,849.6 2099.6,852.2 2089.1,859.1 2085.2,849.6" fill="#cccccc"/><polygon points="2137.2,871.9 2143.0,871.9 2142.2,875.9 2138.0,875.9" fill="#cccccc"/><polygon points="2175.3,879.8 2183.7,874.6 2190.3,868.0 2194.7,862.2 2192.4,870.6 2185.3,878.5 2178.4,883.5" fill="#cccccc"/><polygon points="2053.6,749.8 2057.6,755.0 2060.2,768.2 2064.1,783.9 2066.0,790.5 2062.3,787.9 2058.1,776.0 2054.4,764.2 2051.8,755.0" fill="#cccccc"/><polygon points="1951.4,753.5 1957.6,760.1 1963.1,764.1 1972.0,762.9 1968.6,769.1 1963.9,776.9 1957.6,786.3 1951.4,794.9" fill="#cccccc"/><polygon points="1974.8,638.1 1979.5,633.4 1987.3,630.3 1996.6,628.7 2002.1,628.4 2001.3,630.3 1992.0,632.2 1984.2,635.0 1979.5,640.0" fill="#cccccc"/><polygon points="1865.6,675.5 1868.7,671.6 1873.4,667.7 1878.9,666.9 1879.6,672.4 1883.5,677.4 1878.1,679.0 1871.8,678.2" fill="#cccccc"/><polygon points="1965.4,690.3 1979.5,690.3 1975.6,696.6 1977.9,703.6 1978.7,711.4 1974.0,709.8 1970.1,705.2 1968.6,698.1" fill="#fff"/><polygon points="1850.0,650.9 1854.4,651.5 1854.1,653.4 1850.0,652.7" fill="#cccccc"/><path d="M1951.7 750.4L1962.6 761.6L1972.5 761.6" stroke="#fff" stroke-width="1.800" fill="none"/></svg>
<div class="abs" style="left:1768px;top:680.500px;width:184px;height:222.500px;border-radius:11px;background:#fff;box-shadow:6px 12px 24px rgba(0,0,0,.10),0 2px 6px rgba(0,0,0,.04)"></div>
<div class="t " style="left:1783.5px;top:694.0px;font-size:17.3px;line-height:17.3px;color:#151515;font-weight:700;letter-spacing:0.1px;">6 Export Country</div>
<div class="abs" style="left:1784.2px;top:734.5px;width:5px;height:5px;border-radius:50%;background:#9a8fb5"></div>
<div class="t " style="left:1796.5px;top:729.3px;font-size:15px;line-height:15px;color:#a9a9a9;font-weight:400;letter-spacing:0.55px;">America</div>
<div class="abs" style="left:1784.2px;top:763.9px;width:5px;height:5px;border-radius:50%;background:#9fe070"></div>
<div class="t " style="left:1796.5px;top:758.7px;font-size:15px;line-height:15px;color:#a9a9a9;font-weight:400;letter-spacing:0.55px;">Sweden</div>
<div class="abs" style="left:1784.2px;top:793.3px;width:5px;height:5px;border-radius:50%;background:#d9824a"></div>
<div class="t " style="left:1796.5px;top:788.1px;font-size:15px;line-height:15px;color:#a9a9a9;font-weight:400;letter-spacing:0.55px;">Spain</div>
<div class="abs" style="left:1784.2px;top:822.7px;width:5px;height:5px;border-radius:50%;background:#7fe0c8"></div>
<div class="t " style="left:1796.5px;top:817.5px;font-size:15px;line-height:15px;color:#a9a9a9;font-weight:400;letter-spacing:0.55px;">London</div>
<div class="abs" style="left:1784.2px;top:852.1px;width:5px;height:5px;border-radius:50%;background:#b05548"></div>
<div class="t " style="left:1796.5px;top:846.9px;font-size:15px;line-height:15px;color:#a9a9a9;font-weight:400;letter-spacing:0.55px;">Germany</div>
<div class="abs" style="left:1784.2px;top:881.5px;width:5px;height:5px;border-radius:50%;background:#b8321f"></div>
<div class="t " style="left:1796.5px;top:876.3px;font-size:15px;line-height:15px;color:#a9a9a9;font-weight:400;letter-spacing:0.55px;">Atlanta</div>
<div class="card" style="left:444.5px;top:1002px;width:1077.500px;height:260px"></div>
<div class="t " style="left:470.8px;top:1021.4px;font-size:26.3px;line-height:26.3px;color:#141414;font-weight:700;">Best Selling Product</div>
<div class="abs" style="left:446.5px;top:1064px;width:1073.500px;height:60.500px;background:#fafafa"></div>
<div class="t " style="left:470.8px;top:1082.0px;font-size:23px;line-height:23px;color:#1c1c1c;font-weight:400;letter-spacing:0.95px;-webkit-text-stroke:1.0px #1c1c1c;">Product Name</div>
<div class="t " style="left:824.6px;top:1082.0px;font-size:23px;line-height:23px;color:#1c1c1c;font-weight:400;letter-spacing:0.6px;-webkit-text-stroke:1.0px #1c1c1c;">Brand</div>
<div class="t " style="left:1018.8px;top:1082.0px;font-size:23px;line-height:23px;color:#1c1c1c;font-weight:400;letter-spacing:1.1px;-webkit-text-stroke:1.0px #1c1c1c;">Quantity</div>
<div class="t " style="left:1231.3px;top:1082.0px;font-size:23px;line-height:23px;color:#1c1c1c;font-weight:400;letter-spacing:0.55px;-webkit-text-stroke:1.0px #1c1c1c;">Price</div>
<div class="t " style="left:1417.8px;top:1082.0px;font-size:23px;line-height:23px;color:#1c1c1c;font-weight:400;letter-spacing:0.65px;-webkit-text-stroke:1.0px #1c1c1c;">Earning</div>
<svg class="abs" style="left:476px;top:1150px" width="42" height="22" viewBox="0 0 42 22"><path d="M2 16c2-5 5-8 8-9l3-4 3 3 4-2 2 4c3 2 7 3 11 4 3 1 6 2 7 4l-1 2H3z" fill="#d5d5d5"/><path d="M2 16c2-5 5-8 8-9l3-4 3 3 4-2 1 5-2 3-4 1 3 2-1 2H3z" fill="#2a2a2a"/><path d="M20 18h20" stroke="#e6e6e6" stroke-width="2"/></svg>
<div class="t " style="left:530.8px;top:1149.2px;font-size:21px;line-height:21px;color:#1a1a1a;font-weight:400;letter-spacing:0.08px;-webkit-text-stroke:0.6px #1a1a1a;">Nike Air Max Shoe</div>
<div class="t " style="left:824.6px;top:1149.2px;font-size:21px;line-height:21px;color:#ababab;font-weight:400;letter-spacing:0.2px;">Nike</div>
<div class="t " style="left:1022px;top:1149.2px;font-size:21px;line-height:21px;color:#1a1a1a;font-weight:700;">1250</div>
<div class="t " style="left:1231.3px;top:1149.5px;font-size:21.5px;line-height:21.5px;color:#ababab;font-weight:400;letter-spacing:0.3px;">$95.00</div>
<div class="t " style="left:1417.8px;top:1149.5px;font-size:21.5px;line-height:21.5px;color:#ababab;font-weight:400;letter-spacing:0.3px;">$95.00</div>
<div class="abs" style="left:470px;top:1194.500px;width:1017px;height:2px;background:#e6e6e6"></div>
<div class="card" style="left:1553px;top:1002px;width:666.500px;height:260px;overflow:hidden"></div>
<div class="t " style="left:1578px;top:1029.4px;font-size:31px;line-height:31px;color:#111;font-weight:700;">Total Selling Source</div>
<div class="t " style="left:1578.5px;top:1073.9px;font-size:22px;line-height:22px;color:#a2a2a2;font-weight:400;letter-spacing:0.4px;">Total Sell in this week</div>
<svg class="abs" style="left:2165px;top:1029px" width="32" height="32" viewBox="0 0 32 32" fill="none" stroke="#8a8a8a" stroke-width="1.600" stroke-linecap="round"><path d="M2 5h13M23 5h7M2 16h18M28 16h2M2 27h3M13 27h17"/><circle cx="19" cy="5" r="3"/><circle cx="24" cy="16" r="3"/><circle cx="9" cy="27" r="3"/></svg>
<svg class="abs" style="left:0;top:0" width="2268" height="1204" viewBox="0 0 2268 1204"><defs><clipPath id="pr"><rect x="1792.5" y="1100" width="300" height="200"/></clipPath></defs><circle cx="1796.3" cy="1331" r="178" fill="#c7052d"/><circle cx="1796.3" cy="1331" r="178" fill="#1fb6ea" clip-path="url(#pr)"/></svg>
<div class="t " style="left:2018.3px;top:1150.8px;font-size:22.3px;line-height:22.3px;color:#757575;font-weight:400;letter-spacing:0.1px;">E-Commerce</div>
<div class="abs" style="left:2021px;top:1199.500px;width:11px;height:11px;border-radius:50%;background:#1fb6ea"></div>
<div class="t " style="left:2053.6px;top:1194.5px;font-size:32px;line-height:32px;color:#111;font-weight:700;letter-spacing:0.5px;">1276</div>
</div></div>
</body>
</html>
